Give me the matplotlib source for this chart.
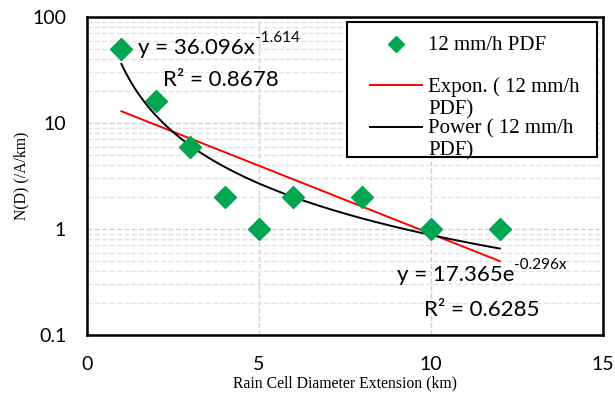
import numpy as np
import matplotlib
matplotlib.use("Agg")
import matplotlib.pyplot as plt
from matplotlib.ticker import LogLocator, NullFormatter
from matplotlib.legend_handler import HandlerLine2D
from matplotlib.patches import Rectangle

# data
diam = [1, 2, 3, 4, 5, 6, 8, 10, 12]
pdf = [50, 16, 6, 2, 1, 2, 2, 1, 1]
xticks = [0, 5, 10, 15]
yticks = [0.1, 1, 10, 100]
ytick_labels = ["0.1", "1", "10", "100"]

# trendline coefficients as printed on the chart
pow_a, pow_b, pow_r2 = 36.096, -1.614, 0.8678
exp_a, exp_b, exp_r2 = 17.365, -0.296, 0.6285

x = np.array(diam, float)
y = np.array(pdf, float)
xx = np.linspace(x.min(), x.max(), 200)

SANS = "Lato"
SERIF = "Liberation Serif"


class UpperHandler(HandlerLine2D):
    # put the handle next to the first line of a two line label
    def create_artists(self, legend, orig, xdescent, ydescent, width, height,
                       fontsize, trans):
        arts = super().create_artists(legend, orig, xdescent, ydescent, width,
                                      height, fontsize, trans)
        for a in arts:
            a.set_ydata(np.asarray(a.get_ydata(), float) + 0.6 * fontsize)
        return arts


fig = plt.figure(figsize=(6.15, 3.96), dpi=100)
ax = fig.add_axes([0.1415, 0.154, 0.839, 0.803])

ax.set_yscale("log")
ax.set_xlim(0, 15)
ax.set_ylim(0.1, 100)

# grid
ax.set_xticks(xticks)
ax.set_yticks(yticks)
ax.set_yticklabels(ytick_labels)
ax.yaxis.set_minor_locator(LogLocator(base=10, subs=np.arange(2, 10)))
ax.yaxis.set_minor_formatter(NullFormatter())
ax.grid(which="major", color="#d0d0d0", linestyle="--", lw=1)
ax.grid(which="minor", axis="y", color="#e4e4e4", linestyle="--", lw=1)
ax.set_axisbelow(True)
ax.tick_params(which="both", length=0)
ax.tick_params(axis="both", labelsize=14, pad=15)
for lab in ax.get_xticklabels() + ax.get_yticklabels():
    lab.set_family(SANS)

for s in ax.spines.values():
    s.set_linewidth(1.8)

ax.plot(x, y, "D", color="#00a650", ms=11, mec="#00a650",
        label="12 mm/h PDF\n ", zorder=3)
ax.plot(xx, exp_a * np.exp(exp_b * xx), color="#ff0000", lw=1.4,
        label="Expon. ( 12 mm/h\nPDF)", zorder=2)
ax.plot(xx, pow_a * xx ** pow_b, color="black", lw=1.4,
        label="Power ( 12 mm/h\nPDF)", zorder=2)


def equation(xp, yp, base, sup):
    t = ax.text(xp, yp, base, fontsize=16, family=SANS, va="center")
    ax.annotate(sup, xy=(1.0, 0.98), xycoords=t, fontsize=11, family=SANS,
                ha="left", va="center")


# trendline equations
equation(1.48, 51, "y = %.3fx" % pow_a, "%.3f" % pow_b)
ax.text(2.21, 25.5, "R² = %.4f" % pow_r2, fontsize=16, family=SANS,
        va="center")
equation(9.0, 0.37, "y = %.3fe" % exp_a, "%.3fx" % exp_b)
ax.text(9.8, 0.172, "R² = %.4f" % exp_r2, fontsize=16, family=SANS,
        va="center")

leg = ax.legend(loc="upper left", bbox_to_anchor=(0.52, 0.985),
                prop={"family": SERIF, "size": 15}, frameon=False,
                handlelength=2.5, labelspacing=0.0, borderpad=0.2,
                handletextpad=0.3, markerscale=0.7,
                handler_map={matplotlib.lines.Line2D: UpperHandler()})
# Excel draws the legend box smaller than its text
ax.add_patch(Rectangle((0.504, 0.56), 0.484, 0.424, transform=ax.transAxes,
                       fill=True, fc="white", ec="black", lw=1.5, zorder=4))
leg.set_zorder(5)

ax.set_xlabel("Rain Cell Diameter Extension (km)", family=SERIF,
              fontsize=11.3, labelpad=2)
ax.set_ylabel("N(D) (/A/km)", family=SERIF, fontsize=11.3, labelpad=2)

fig.savefig("out.png", dpi=100)
